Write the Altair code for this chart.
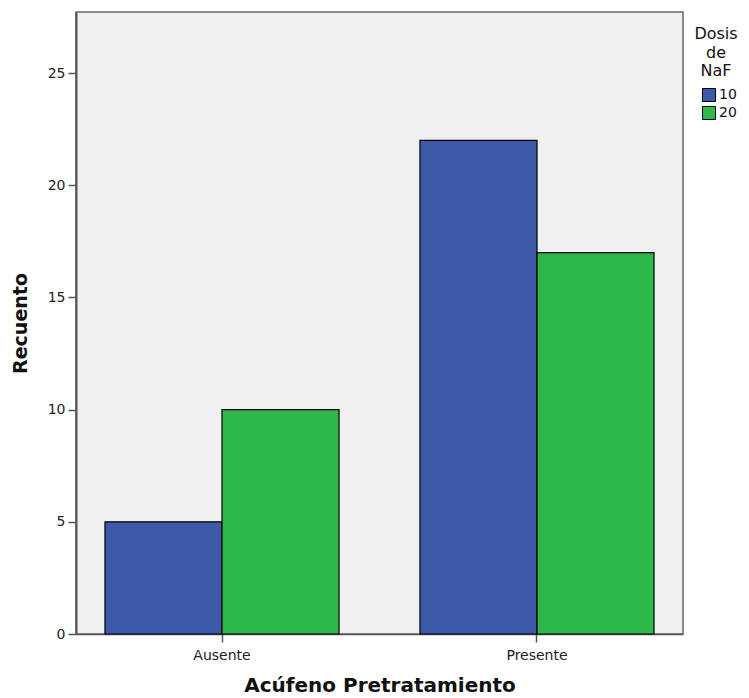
import altair as alt
import pandas as pd

categories = ["Ausente", "Ausente", "Presente", "Presente"]
doses = ["10", "20", "10", "20"]
counts = [5, 10, 22, 17]

df = pd.DataFrame({"cat": categories, "dosis": doses, "n": counts})

FONT = "DejaVu Sans"

chart = alt.Chart(df).mark_bar(stroke="black", strokeWidth=1.2).encode(
    x=alt.X("cat:N", title="Acúfeno Pretratamiento",
            scale=alt.Scale(paddingInner=0.257, paddingOuter=0.092),
            axis=alt.Axis(labelAngle=0, labelFontSize=14, labelColor="#222",
                          titleFontSize=20, titleFontWeight="bold", titleColor="#111",
                          titlePadding=13, tickSize=8, tickColor="#555", tickWidth=1.5,
                          domainColor="#555", domainWidth=1.5, labelPadding=6)),
    xOffset=alt.XOffset("dosis:N", scale=alt.Scale(paddingInner=0, paddingOuter=0)),
    y=alt.Y("n:Q", title="Recuento",
            scale=alt.Scale(domain=[0, 27.72], nice=False),
            axis=alt.Axis(values=[0, 5, 10, 15, 20, 25], grid=False, labelFontSize=14,
                          labelColor="#222", titleFontSize=19, titleFontWeight="bold",
                          titleColor="#111", titlePadding=17, tickSize=8, tickColor="#555",
                          tickWidth=1.5, domainColor="#555", domainWidth=2, labelPadding=3)),
    color=alt.Color("dosis:N",
                    scale=alt.Scale(domain=["10", "20"], range=["#3E58A8", "#2EB84A"]),
                    legend=alt.Legend(title=["Dosis", "de", "NaF"], titleAlign="center",
                                      titleAnchor="middle", titleFontSize=16,
                                      titleLineHeight=18.5,
                                      titleFontWeight="normal", titleColor="#111",
                                      labelFontSize=14, labelColor="#111",
                                      symbolType="square", symbolSize=169,
                                      symbolStrokeColor="black", symbolStrokeWidth=1,
                                      symbolOffset=6,
                                      orient="none", legendX=618, legendY=14,
                                      rowPadding=0, titlePadding=9,
                                      labelOffset=3)),
).properties(
    width=607, height=622,
    padding={"left": 68, "top": 4, "right": 58, "bottom": 72},
    autosize=alt.AutoSizeParams(type="none"),
).configure(font=FONT).configure_view(
    fill="#F0F0F0", stroke="#666", strokeWidth=1.5
)

chart.save("out.html", embed_options={"renderer": "svg", "actions": False})
